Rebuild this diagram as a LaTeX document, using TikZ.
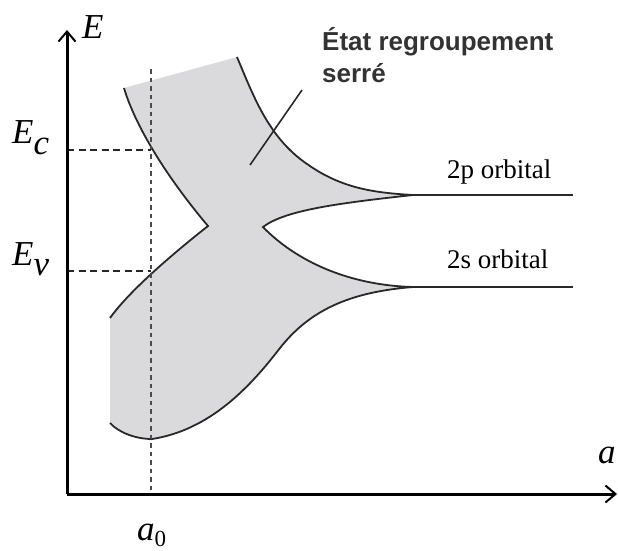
\documentclass[tikz,border=0pt]{standalone}
\usepackage{fontspec}
\setmainfont{Liberation Serif}
\newfontfamily\notesans{Liberation Sans}
\usetikzlibrary{arrows.meta}
\definecolor{bandfill}{RGB}{218,218,221}
\definecolor{curvecol}{RGB}{40,40,40}
\definecolor{dotcol}{RGB}{75,75,75}
\definecolor{notecol}{RGB}{51,51,51}
\tikzset{
  band/.style={fill=bandfill},
  curve/.style={draw=curvecol,line width=1.8pt},
  orbline/.style={draw=curvecol,line width=2.2pt},
  dotline/.style={draw=dotcol,line width=2.6pt,dash pattern=on 4.5pt off 4pt},
  dashline/.style={draw=black!85,line width=1.8pt,dash pattern=on 7pt off 4.5pt},
  axisline/.style={draw=black,line width=3pt},
  axistip/.style={-{Straight Barb[length=10pt,width=17pt,line width=2pt]}},
  lead/.style={draw=curvecol,line width=1.6pt},
  mathlbl/.style={inner sep=0pt,anchor=base west,font=\fontsize{35}{35}\selectfont\itshape},
  orblbl/.style={inner sep=0pt,anchor=base west,font=\fontsize{27}{27}\selectfont},
  notelbl/.style={inner sep=0pt,anchor=base west,align=left,text=notecol,
    font=\notesans\bfseries\fontsize{26}{32}\selectfont}
}
\begin{document}
\begin{tikzpicture}[x=1pt,y=-1pt]
\useasboundingbox (0,0) rectangle (618,550);

% key points
\coordinate (O) at (67,494);
\coordinate (Etop) at (67,30);
\coordinate (aend) at (617,494);
\coordinate (Ec) at (67,150);
\coordinate (Ev) at (67,271);
\coordinate (Ecx) at (151,150);
\coordinate (Evx) at (151,271);
\coordinate (dtop) at (151,69);
\coordinate (dbot) at (151,494);
\coordinate (p2a) at (413,195);
\coordinate (p2b) at (573,195);
\coordinate (s2a) at (413,287);
\coordinate (s2b) at (573,287);
\coordinate (leadA) at (250,165);
\coordinate (leadB) at (302,90);

% shaded band
\path[band] (124,88) -- (237,57)
  .. controls (255,100) and (270,140) .. (310,166)
  .. controls (345,190) and (380,193) .. (p2a)
  .. controls (340,203) and (285,210) .. (263,227)
  .. controls (290,255) and (340,285) .. (s2a)
  .. controls (350,292) and (310,310) .. (280,348)
  .. controls (250,387) and (210,430) .. (152,439)
  .. controls (135,439) and (118,432) .. (110,423)
  -- (110,318)
  .. controls (130,290) and (175,252) .. (208,226)
  .. controls (165,175) and (135,125) .. cycle;

% band outlines
\path[curve] (124,88) .. controls (135,125) and (165,175) .. (208,226)
  .. controls (175,252) and (130,290) .. (110,318);
\path[curve] (237,57)
  .. controls (255,100) and (270,140) .. (310,166)
  .. controls (345,190) and (380,193) .. (p2a)
  .. controls (340,203) and (285,210) .. (263,227)
  .. controls (290,255) and (340,285) .. (s2a)
  .. controls (350,292) and (310,310) .. (280,348)
  .. controls (250,387) and (210,430) .. (152,439)
  .. controls (135,439) and (118,432) .. (110,423);

% orbital lines
\path[orbline] (p2a) -- (p2b);
\path[orbline] (s2a) -- (s2b);

% guide lines
\path[dotline] (dtop) -- (dbot);
\path[dashline] (Ec) -- (Ecx);
\path[dashline] (Ev) -- (Evx);

% axes
\path[axisline,axistip] (O) -- (Etop);
\path[axisline,axistip] (O) -- (aend);

% leader
\path[lead] (leadA) -- (leadB);

% labels
\node[mathlbl] (lE) at (82,38) {E};
\node[mathlbl] (lEc) at (12,143) {E\raisebox{-11pt}{c}};
\node[mathlbl] (lEv) at (12,265) {E\raisebox{-10pt}{v}};
\node[mathlbl] (la0) at (137,540) {a\raisebox{-6pt}{\upshape\fontsize{23}{23}\selectfont 0}};
\node[mathlbl] (la) at (598,463) {a};
\node[orblbl] (l2p) at (447,178) {2p orbital};
\node[orblbl] (l2s) at (447,268) {2s orbital};
\node[notelbl] (note) at (322,82) {État regroupement\\serré};
\end{tikzpicture}
\end{document}
